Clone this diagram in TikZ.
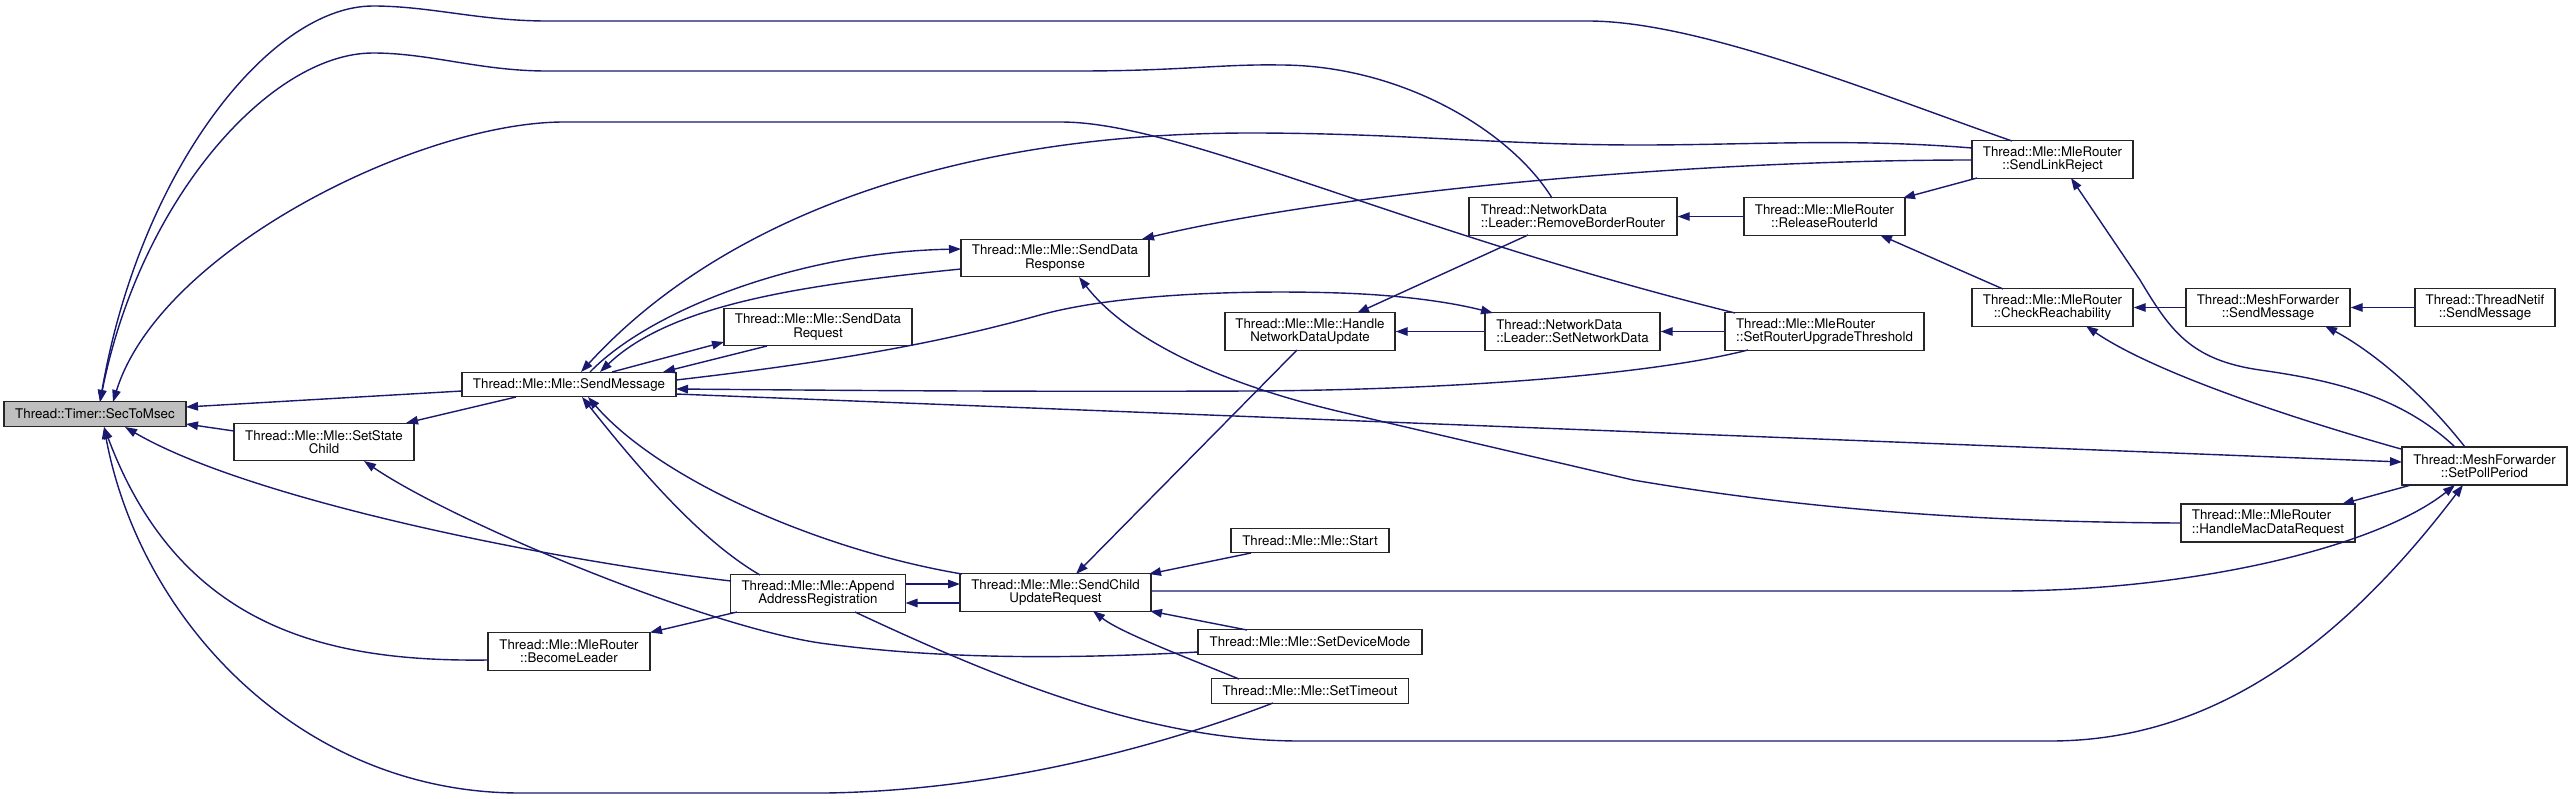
\documentclass[tikz,border=0pt]{standalone}
\usepackage{fontspec}
\newfontfamily\dxfam{TeX Gyre Heros}
\usetikzlibrary{arrows.meta,calc}
\definecolor{edgeblue}{RGB}{25,25,112}
\definecolor{rootgray}{RGB}{191,191,191}
\begin{document}
\begin{tikzpicture}[x=1pt,y=-1pt,
  box/.style={draw=black!85,line width=1.4pt,fill=white,inner sep=0pt,minimum height=37.5pt,
    font={\dxfam\fontsize{13.3}{13.3}\selectfont},align=center},
  one/.style={minimum height=24.5pt},
  lft/.style={align=left},
  edge/.style={draw=edgeblue,line width=1.4pt,-{Triangle[length=12pt,width=8.5pt]}}]
\fill[white] (0,0) rectangle (2573,798);
\useasboundingbox (0,0) rectangle (2573,798);

% nodes
\node[box,one,fill=rootgray,minimum width=182pt] (sec) at (95,414) {Thread::Timer::SecToMsec};
\node[box,one,minimum width=214pt] (sm) at (569,384.5) {Thread::Mle::Mle::SendMessage};
\node[box,minimum width=180pt] (ssc) at (324,442) {Thread::Mle::Mle::SetState\\Child};
\node[box,minimum width=188pt] (sdr) at (1055,258) {Thread::Mle::Mle::SendData\\Response};
\node[box,minimum width=188pt] (sdq) at (818,327) {Thread::Mle::Mle::SendData\\Request};
\node[box,minimum width=175pt] (aar) at (818,593.5) {Thread::Mle::Mle::Append\\AddressRegistration};
\node[box,minimum width=162pt,minimum height=38pt] (bl) at (569,651.5) {Thread::Mle::MleRouter\\::BecomeLeader};
\node[box,minimum width=191pt] (scur) at (1055.5,592.5) {Thread::Mle::Mle::SendChild\\UpdateRequest};
\node[box,one,minimum width=158pt] (start) at (1310,540.5) {Thread::Mle::Mle::Start};
\node[box,one,minimum width=224pt] (sdm) at (1310,642) {Thread::Mle::Mle::SetDeviceMode};
\node[box,one,minimum width=197pt] (sto) at (1310,691) {Thread::Mle::Mle::SetTimeout};
\node[box,minimum width=170pt] (hndu) at (1310,331.5) {Thread::Mle::Mle::Handle\\NetworkDataUpdate};
\node[box,lft,minimum width=208pt] (rbr) at (1573,216.5) {Thread::NetworkData\\::Leader::RemoveBorderRouter};
\node[box,lft,minimum width=175pt] (snd) at (1572.5,331.5) {Thread::NetworkData\\::Leader::SetNetworkData};
\node[box,minimum width=161pt] (rri) at (1824.5,216.5) {Thread::Mle::MleRouter\\::ReleaseRouterId};
\node[box,lft,minimum width=199pt] (srut) at (1824.5,331.5) {Thread::Mle::MleRouter\\::SetRouterUpgradeThreshold};
\node[box,minimum width=161pt] (slr) at (2052.5,159.5) {Thread::Mle::MleRouter\\::SendLinkReject};
\node[box,minimum width=161pt] (cr) at (2052.5,307.5) {Thread::Mle::MleRouter\\::CheckReachability};
\node[box,minimum width=164pt] (mfsm) at (2268,307.5) {Thread::MeshForwarder\\::SendMessage};
\node[box,minimum width=140pt] (tnsm) at (2485,307.5) {Thread::ThreadNetif\\::SendMessage};
\node[box,minimum width=165pt,minimum height=38pt] (spp) at (2484.5,466) {Thread::MeshForwarder\\::SetPollPeriod};
\node[box,lft,minimum width=174pt,minimum height=38pt] (hmdr) at (2268,523) {Thread::Mle::MleRouter\\::HandleMacDataRequest};

% edges into SecToMsec
\draw[edge] ($(sm)+(-107,6.5)$) -- ($(sec)+(91,-7)$);
\draw[edge] ($(ssc)+(-90,-11)$) -- ($(sec)+(91,10)$);
\draw[edge] ($(aar)+(-87,-12.5)$) .. controls (550,560) and (250,500) .. ($(sec)+(30,13)$);
\draw[edge] ($(bl)+(-81,8.5)$) .. controls (330,662) and (180,630) .. ($(sec)+(9,13)$);
\draw[edge] ($(sto)+(-37,12)$) .. controls (1190,735) and (1020,790) .. (826,793) -- (520,793) .. controls (300,793) and (140,620) .. ($(sec)+(9,13)$);
\draw[edge] ($(slr)+(-40.5,-18.5)$) .. controls (1880,95) and (1700,21) .. (1588,21) -- (547,21) .. controls (480,21) and (430,6) .. (373,6) .. controls (270,6) and (140,170) .. ($(sec)+(5,-12)$);
\draw[edge] ($(rbr)+(-21,-18.5)$) .. controls (1510,130) and (1400,65) .. (1280,65) .. controls (1220,64) and (1180,71) .. (1078,71) -- (547,71) .. controls (480,71) and (430,53) .. (373,53) .. controls (270,53) and (140,200) .. ($(sec)+(5,-12)$);
\draw[edge] ($(srut)+(-89.5,-18.5)$) .. controls (1400,230) and (1180,122) .. (1061,122) -- (564,122) .. controls (420,122) and (160,250) .. ($(sec)+(18,-12)$);

% SetStateChild
\draw[edge] ($(sm)+(-53,12.5)$) -- ($(ssc)+(82,-19)$);
\draw[edge] ($(sdm)+(-112,10)$) .. controls (1050,660) and (930,658) .. (820,643) .. controls (700,625) and (450,520) .. ($(ssc)+(40,19)$);

% SendMessage neighbourhood
\draw[edge] ($(sm)+(21,-12.5)$) .. controls (650,310) and (800,252) .. ($(sdr)+(-94,-9)$);
\draw[edge] ($(sdr)+(-94,11)$) .. controls (800,285) and (670,305) .. ($(sm)+(31,-12.5)$);
\draw[edge] ($(sm)+(43,-12.5)$) -- ($(sdq)+(-94,15)$);
\draw[edge] ($(sdq)+(-51,19)$) -- ($(sm)+(94,-12.5)$);
\draw[edge] ($(slr)+(-80.5,-11.5)$) .. controls (1850,138) and (1750,145) .. (1640,145) .. controls (1500,145) and (1400,133) .. (1250,133) .. controls (950,133) and (720,220) .. ($(sm)+(12,-12.5)$);
\draw[edge] ($(sm)+(107,-4.5)$) .. controls (850,360) and (950,340) .. (1040,315) .. controls (1120,293) and (1250,290) .. (1340,293) .. controls (1400,295) and (1450,302) .. ($(snd)+(-79.5,-18.5)$);
\draw[edge] ($(srut)+(-76.5,18.5)$) .. controls (1650,375) and (1450,390) .. (1250,391) .. controls (1000,392) and (800,390) .. ($(sm)+(107,4.5)$);
\draw[edge] ($(sm)+(107,9.5)$) -- ($(spp)+(-82.5,-4)$);
\draw[edge] ($(aar)+(-58,-18.5)$) .. controls (700,540) and (640,470) .. ($(sm)+(13,12.5)$);
\draw[edge] ($(scur)+(-93.5,-18.5)$) .. controls (820,550) and (660,480) .. ($(sm)+(19,12.5)$);

% AppendAddressRegistration / SendChildUpdateRequest
\draw[edge] ($(aar)+(87.5,-9.5)$) -- ($(scur)+(-95.5,-8.5)$);
\draw[edge] ($(scur)+(-95.5,10.5)$) -- ($(aar)+(87.5,9.5)$);
\draw[edge] ($(aar)+(-81,18.5)$) -- ($(bl)+(81,-19)$);
\draw[edge] ($(aar)+(37,18.5)$) .. controls (1000,680) and (1150,741) .. (1300,741) -- (2050,741) .. controls (2200,741) and (2330,660) .. ($(spp)+(-21.5,19)$);
\draw[edge] ($(scur)+(95.5,-1.5)$) -- (2000,591) .. controls (2200,591) and (2380,545) .. ($(spp)+(-29.5,19)$);
\draw[edge] ($(start)+(-59,12.5)$) -- ($(scur)+(93.5,-18.5)$);
\draw[edge] ($(sdm)+(-63,-12)$) -- ($(scur)+(94.5,18.5)$);
\draw[edge] ($(sto)+(-71,-12)$) .. controls (1180,655) and (1120,632) .. ($(scur)+(37.5,18.5)$);
\draw[edge] ($(hndu)+(-13,18.5)$) -- ($(scur)+(20.5,-18.5)$);

% right part
\draw[edge] ($(rbr)+(-45,18.5)$) -- ($(hndu)+(47,-18.5)$);
\draw[edge] (snd.west) -- (hndu.east);
\draw[edge] (srut.west) -- (snd.east);
\draw[edge] (rri.west) -- (rbr.east);
\draw[edge] ($(slr)+(-75.5,18.5)$) -- ($(rri)+(78.5,-18.5)$);
\draw[edge] ($(cr)+(-49.5,-18.5)$) -- ($(rri)+(55.5,18.5)$);
\draw[edge] (mfsm.west) -- (cr.east);
\draw[edge] (tnsm.west) -- (mfsm.east);
\draw[edge] ($(spp)+(-29.5,-19)$) .. controls (2400,395) and (2330,380) .. (2260,370) .. controls (2190,360) and (2170,330) .. (2140,280) -- ($(slr)+(18.5,18.5)$);
\draw[edge] ($(spp)+(-83.5,-17)$) .. controls (2280,415) and (2150,370) .. ($(cr)+(33.5,18.5)$);
\draw[edge] ($(spp)+(-19.5,-19)$) .. controls (2420,390) and (2370,350) .. ($(mfsm)+(57,18.5)$);
\draw[edge] ($(spp)+(-73.5,19)$) -- ($(hmdr)+(74,-19)$);
\draw[edge] (hmdr.west) .. controls (1950,522) and (1780,505) .. (1633,480) -- (1350,414) .. controls (1200,380) and (1120,330) .. ($(sdr)+(24,19)$);
\draw[edge] ($(slr)+(-80.5,0.5)$) .. controls (1700,160) and (1350,190) .. ($(sdr)+(87,-19)$);
\end{tikzpicture}
\end{document}
